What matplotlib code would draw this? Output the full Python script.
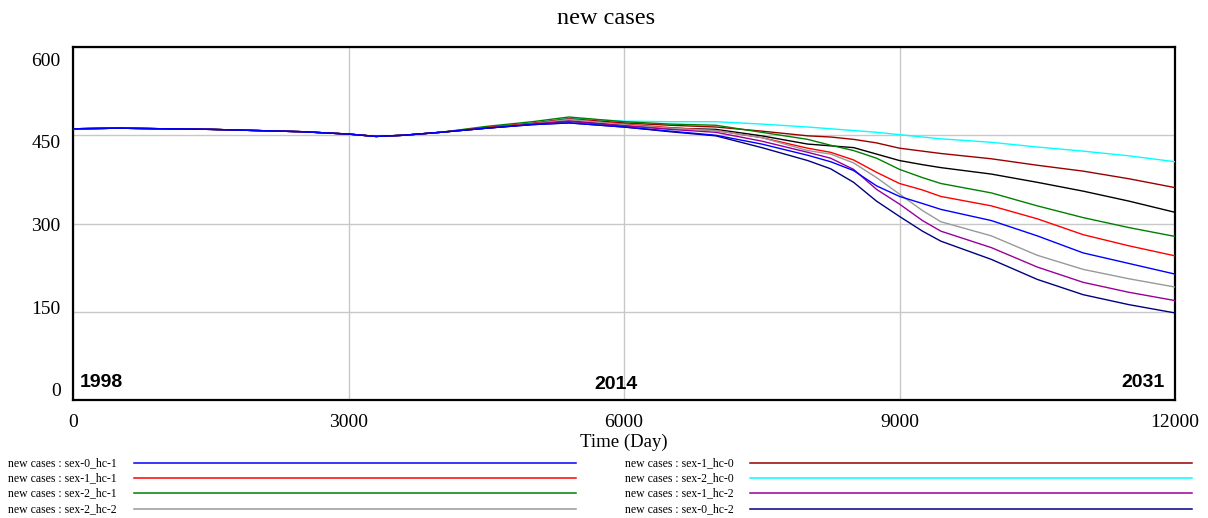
import matplotlib
matplotlib.use("Agg")
import matplotlib.pyplot as plt
from matplotlib.lines import Line2D
from matplotlib.transforms import ScaledTranslation

# ---------------- data ----------------
days_common = [0, 500, 1000, 1500, 2000, 2500, 3000, 3300, 3600, 4000]
common_vals = [461, 462, 461, 460, 458, 456, 452, 448, 450, 455]

days_late = [4500, 5000, 5400, 6000, 6500, 7000, 7500, 8000, 8250, 8500, 8750,
             9000, 9250, 9450, 10000, 10500, 11000, 11500, 12000]

sex0_hc1 = [462, 468, 471, 464, 457, 450, 435, 416, 405, 390, 364, 346, 334, 324, 305, 279, 250, 232, 214]
sex1_hc1 = [463, 470, 477, 469, 463, 458, 446, 428, 421, 408, 387, 368, 357, 346, 330, 308, 281, 262, 245]
sex2_hc1 = [465, 473, 481, 473, 469, 467, 455, 443, 433, 424, 411, 392, 378, 368, 352, 330, 310, 293, 278]
sex2_hc2 = [462, 469, 477, 468, 462, 458, 446, 424, 418, 403, 378, 350, 322, 303, 279, 246, 222, 206, 192]
sex1_hc0 = [463, 470, 478, 471, 467, 464, 457, 449, 447, 443, 437, 428, 423, 419, 410, 399, 389, 376, 361]
sex2_hc0 = [463, 471, 479, 474, 473, 473, 469, 464, 461, 458, 455, 451, 447, 444, 438, 430, 423, 415, 405]
sex1_hc2 = [462, 469, 474, 466, 460, 455, 440, 421, 411, 392, 358, 333, 305, 287, 259, 226, 200, 183, 169]
sex0_hc2 = [462, 468, 471, 464, 456, 449, 429, 407, 393, 370, 338, 312, 287, 270, 239, 205, 179, 162, 148]
sex0_hc0 = [462, 469, 474, 467, 462, 460, 449, 435, 432, 429, 418, 407, 400, 395, 384, 370, 355, 338, 319]

series_labels = ["new cases : sex-0_hc-1", "new cases : sex-1_hc-1",
                 "new cases : sex-2_hc-1", "new cases : sex-2_hc-2",
                 "new cases : sex-1_hc-0", "new cases : sex-2_hc-0",
                 "new cases : sex-1_hc-2", "new cases : sex-0_hc-2"]
series_data = [sex0_hc1, sex1_hc1, sex2_hc1, sex2_hc2,
               sex1_hc0, sex2_hc0, sex1_hc2, sex0_hc2]
series_colors = ["#0000ff", "#ff0000", "#008000", "#999999",
                 "#990000", "#00ffff", "#990099", "#000080"]
hidden_color = "#000000"

x_ticks = [0, 3000, 6000, 9000, 12000]
y_ticks = [0, 150, 300, 450, 600]
year_labels = ["1998", "2014", "2031"]

# ---------------- figure ----------------
W, H = 1208, 518
fig = plt.figure(figsize=(W / 100, H / 100), dpi=100)
ax = fig.add_axes([73 / W, 1 - 400 / H, (1175 - 73) / W, (400 - 47) / H])

serif = ["Liberation Serif", "DejaVu Serif"]
sans = ["Liberation Sans", "DejaVu Sans"]

full_x = days_common + days_late
ax.plot(full_x, common_vals + sex0_hc0, color=hidden_color, lw=1.0, zorder=2)
order = [5, 4, 2, 1, 3, 6, 7, 0]
for i in order:
    ax.plot(full_x, common_vals + series_data[i], color=series_colors[i], lw=1.0, zorder=3)

ax.set_xlim(0, 12000)
ax.set_ylim(0, 600)
ax.set_xticks(x_ticks)
ax.set_yticks(y_ticks)
ax.set_xticklabels([str(v) for v in x_ticks], family=serif, fontsize=14)
ax.set_yticklabels([str(v) for v in y_ticks], family=serif, fontsize=14)
ax.tick_params(length=0, pad=9)
ax.tick_params(axis="x", pad=10)
ax.grid(True, color="#c8c8c8", lw=1.0)
ax.set_axisbelow(True)
for s in ax.spines.values():
    s.set_linewidth(1.6)
    s.set_color("black")

# y labels are spread slightly inward, as in the reference
for v, lab in zip(y_ticks, ax.get_yticklabels()):
    shift_px = -10 + v / 600 * 22  # positive = downward
    lab.set_transform(lab.get_transform() +
                      ScaledTranslation(0, -shift_px / 100, fig.dpi_scale_trans))

ax.set_xlabel("Time (Day)", family=serif, fontsize=13.5, labelpad=2)
fig.text(606 / W, 1 - 19 / H, "new cases", family=serif, fontsize=17.5,
         ha="center", va="center")

ax.text(7 / 1102, 0.05, year_labels[0], transform=ax.transAxes, family=sans,
        fontweight="bold", fontsize=14, ha="left", va="center")
ax.text((616 - 73) / 1102, 0.045, year_labels[1], transform=ax.transAxes, family=sans,
        fontweight="bold", fontsize=14, ha="center", va="center")
ax.text((1165 - 73) / 1102, 0.05, year_labels[2], transform=ax.transAxes, family=sans,
        fontweight="bold", fontsize=14, ha="right", va="center")

# legend (two columns)
rows_y = [463, 478, 493, 509]
for k, (lab, col) in enumerate(zip(series_labels, series_colors)):
    c = k // 4
    r = k % 4
    tx = 8 if c == 0 else 625
    l0, l1 = (134, 576) if c == 0 else (750, 1192)
    yy = 1 - rows_y[r] / H
    fig.text(tx / W, yy, lab, family=serif, fontsize=8.5, ha="left", va="center")
    fig.add_artist(Line2D([l0 / W, l1 / W], [yy, yy], color=col, lw=1.1,
                          transform=fig.transFigure))

fig.savefig("out.png", dpi=100)
